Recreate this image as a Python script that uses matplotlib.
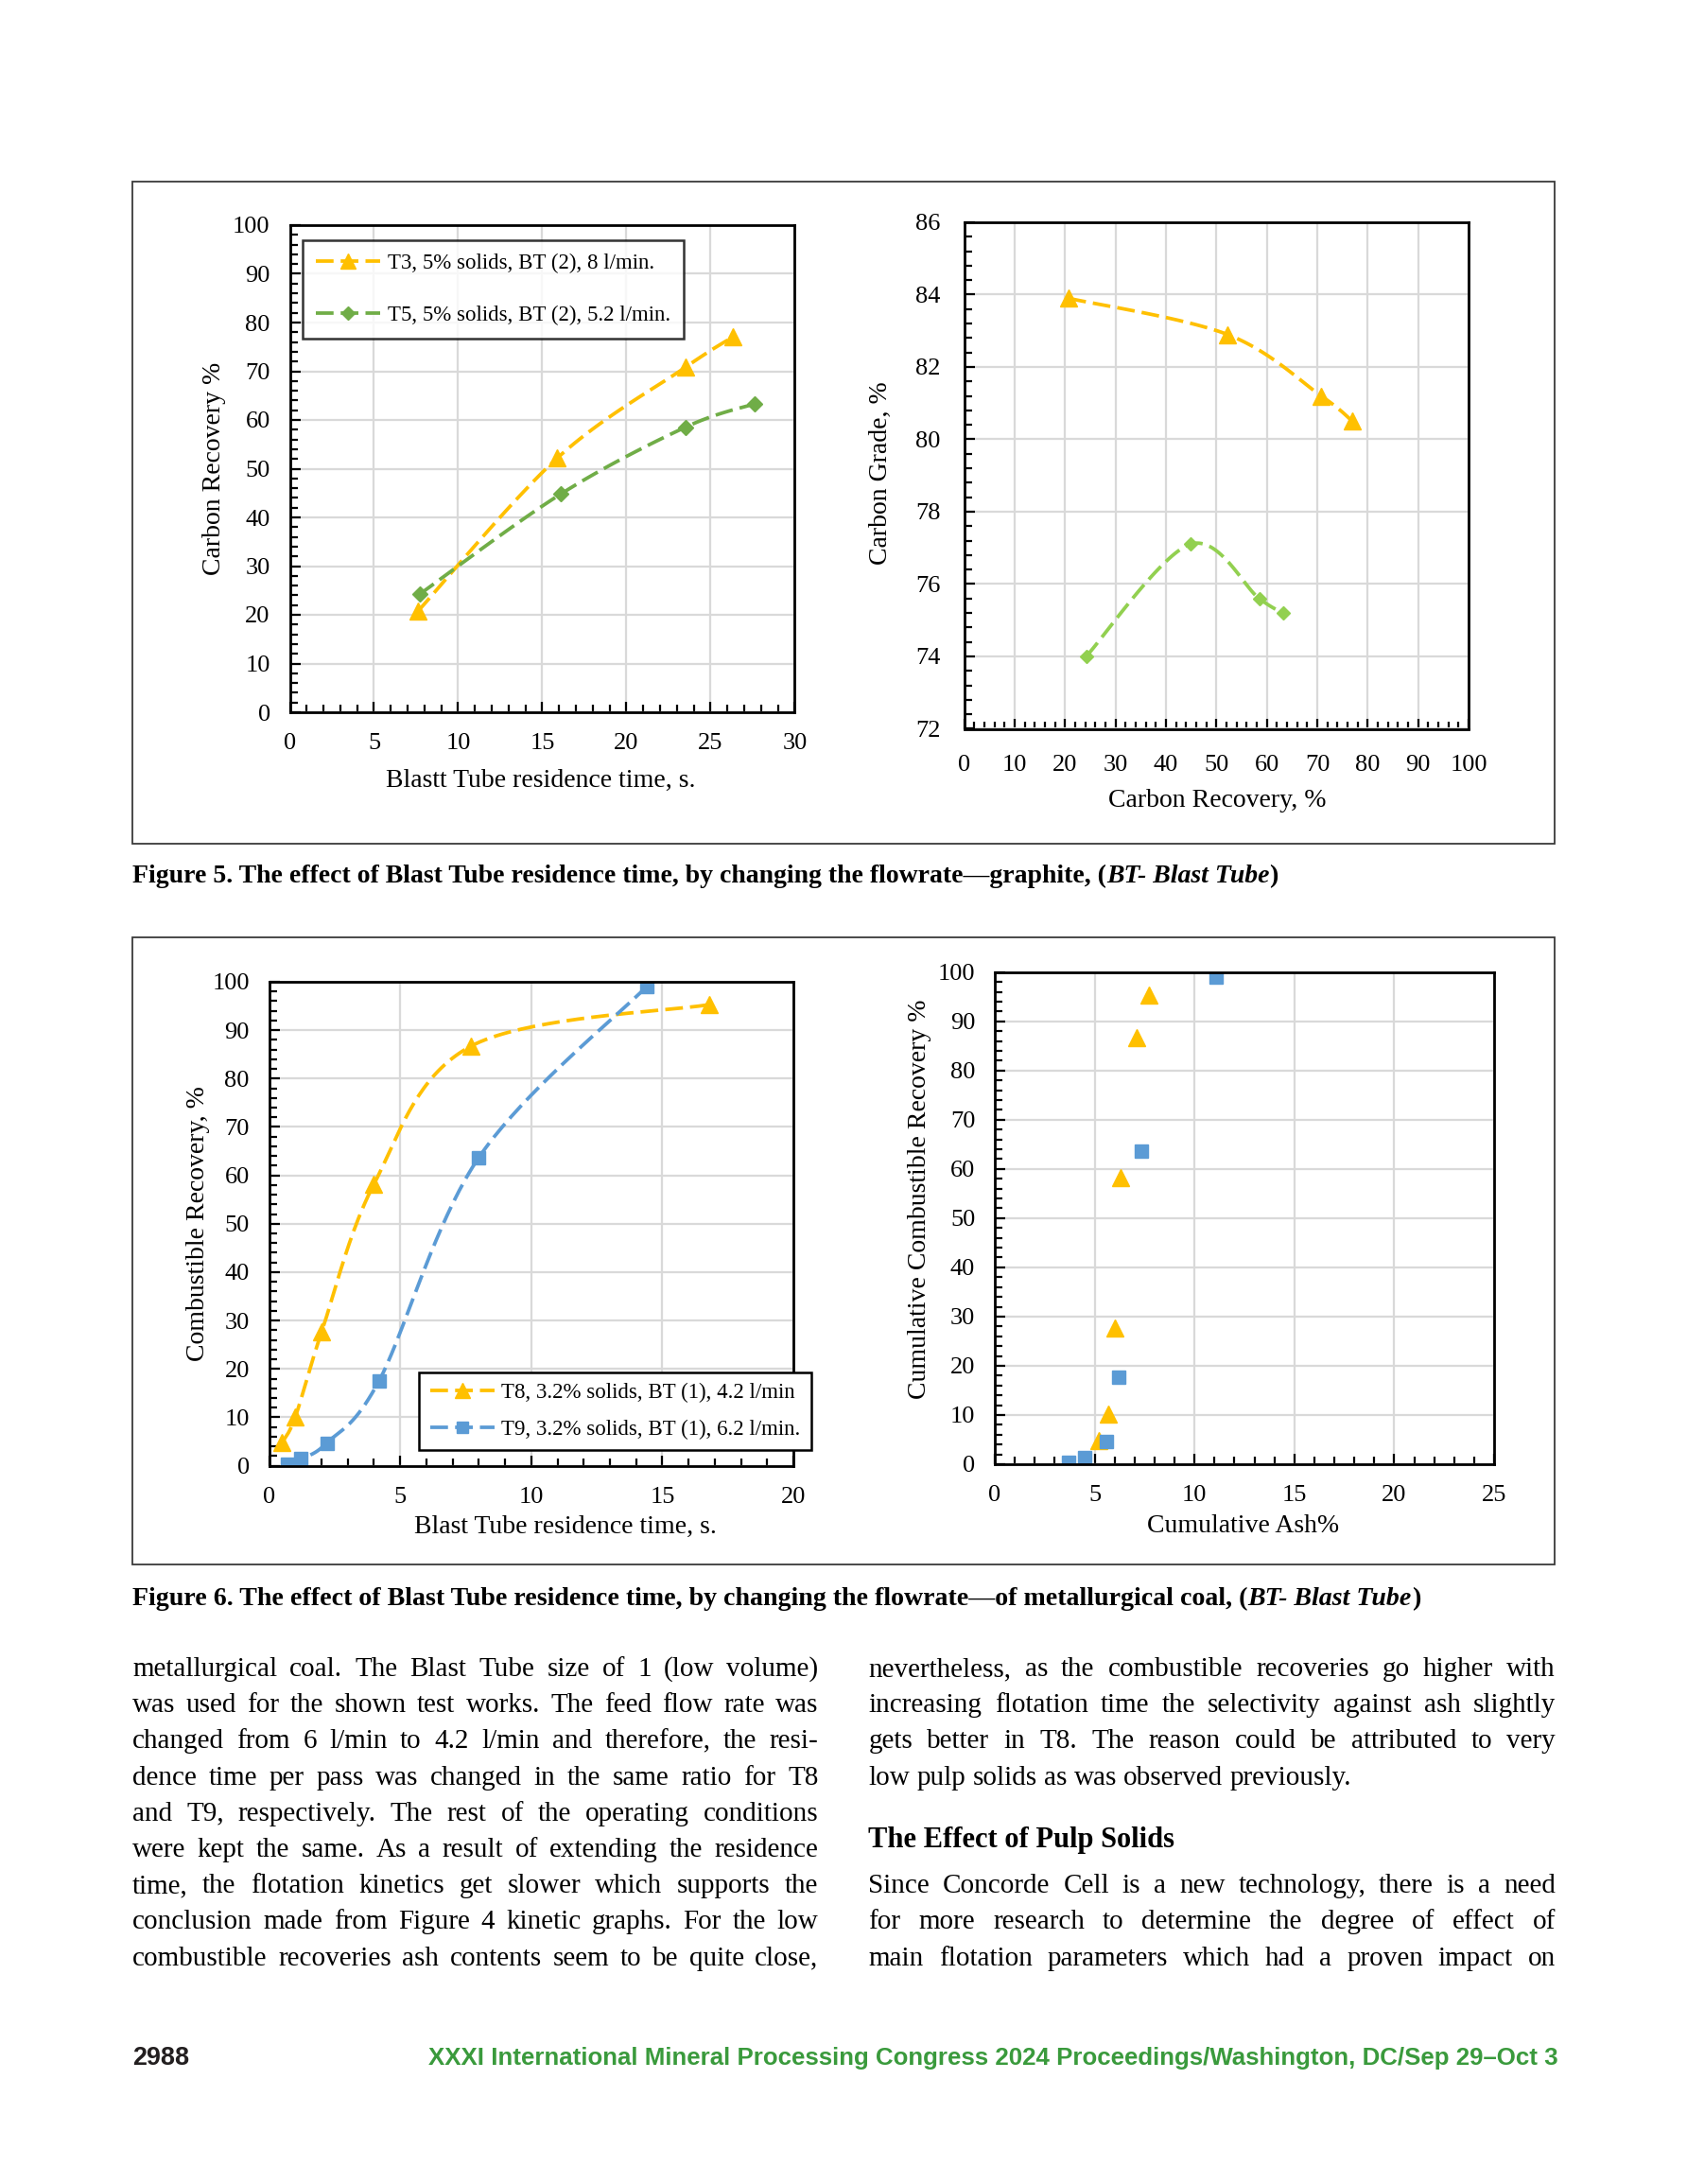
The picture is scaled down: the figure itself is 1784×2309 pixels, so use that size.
import numpy as np
import matplotlib
matplotlib.use("Agg")
import matplotlib.pyplot as plt
from matplotlib.ticker import MultipleLocator
from matplotlib.patches import Rectangle
from matplotlib.lines import Line2D

W, H = 1784, 2309
plt.rcParams['font.family'] = ['Liberation Serif', 'DejaVu Serif']

# ===== Data =====
# Figure 5 (graphite)
t3_time = [7.6, 15.9, 23.5, 26.3]
t3_rec = [20.7, 52.2, 70.8, 77.0]
t3_grade = [83.9, 82.9, 81.2, 80.5]
t5_time = [7.7, 16.1, 23.5, 27.6]
t5_rec = [24.2, 44.8, 58.5, 63.3]
t5_grade = [74.0, 77.1, 75.6, 75.2]
# Figure 6 (metallurgical coal)
t8_time = [0.5, 1.0, 2.0, 4.0, 7.7, 16.8]
t8_rec = [4.8, 10.1, 27.6, 58.2, 86.7, 95.3]
t8_ash = [5.2, 5.7, 6.0, 6.3, 7.1, 7.7]
t9_time = [0.7, 1.2, 2.2, 4.2, 8.0, 14.4]
t9_rec = [0.3, 1.4, 4.7, 17.6, 63.7, 99.0]
t9_ash = [3.7, 4.5, 5.6, 6.2, 7.35, 11.1]

lab_t3 = "T3, 5% solids, BT (2), 8 l/min."
lab_t5 = "T5, 5% solids, BT (2), 5.2 l/min."
lab_t8 = "T8, 3.2% solids, BT (1), 4.2 l/min"
lab_t9 = "T9, 3.2% solids, BT (1), 6.2 l/min."

GOLD = "#FFC000"
GREEN = "#70AD47"
LGREEN = "#92D050"
BLUE = "#5B9BD5"
DASH = (0, (5, 2))

left_lines = [
    "metallurgical coal. The Blast Tube size of 1 (low volume)",
    "was used for the shown test works. The feed flow rate was",
    "changed from 6 l/min to 4.2 l/min and therefore, the resi-",
    "dence time per pass was changed in the same ratio for T8",
    "and T9, respectively. The rest of the operating conditions",
    "were kept the same. As a result of extending the residence",
    "time, the flotation kinetics get slower which supports the",
    "conclusion made from Figure 4 kinetic graphs. For the low",
    "combustible recoveries ash contents seem to be quite close,",
]
right_top = [
    "nevertheless, as the combustible recoveries go higher with",
    "increasing flotation time the selectivity against ash slightly",
    "gets better in T8. The reason could be attributed to very",
    "low pulp solids as was observed previously.",
]
right_bottom = [
    "Since Concorde Cell is a new technology, there is a need",
    "for more research to determine the degree of effect of",
    "main flotation parameters which had a proven impact on",
]


def smooth(x, y, n=40):
    # Bezier smoothing through the points (Excel-like smoothed line)
    p = np.column_stack([x, y]).astype(float)
    p = np.vstack([p[0], p, p[-1]])
    t = np.linspace(0, 1, n)[:, None]
    out = []
    for i in range(1, len(p) - 2):
        p0, p1, p2, p3 = p[i - 1], p[i], p[i + 1], p[i + 2]
        c1 = p1 + (p2 - p0) / 6
        c2 = p2 - (p3 - p1) / 6
        seg = (1 - t) ** 3 * p1 + 3 * (1 - t) ** 2 * t * c1 + 3 * (1 - t) * t ** 2 * c2 + t ** 3 * p2
        out.append(seg if i == 1 else seg[1:])
    s = np.vstack(out)
    return s[:, 0], s[:, 1]


def axes_px(fig, x0, y0, x1, y1):
    return fig.add_axes([x0 / W, 1 - y1 / H, (x1 - x0) / W, (y1 - y0) / H])


def style_axes(ax, xlim, ylim, xmaj, xmin, ymaj, ymin, xpad=16, ypad=15):
    ax.set_xlim(*xlim)
    ax.set_ylim(*ylim)
    ax.xaxis.set_major_locator(MultipleLocator(xmaj))
    ax.xaxis.set_minor_locator(MultipleLocator(xmin))
    ax.yaxis.set_major_locator(MultipleLocator(ymaj))
    ax.yaxis.set_minor_locator(MultipleLocator(ymin))
    ax.grid(True, which='major', color='#D9D9D9', lw=1.6)
    ax.set_axisbelow(True)
    for s in ax.spines.values():
        s.set_linewidth(2.0)
        s.set_color('black')
    ax.tick_params(which='both', direction='in', width=1.6, labelsize=19)
    ax.tick_params(axis='x', which='both', pad=xpad)
    ax.tick_params(axis='y', which='both', pad=ypad)
    ax.tick_params(which='major', length=8)
    ax.tick_params(which='minor', length=6)


def labels(ax, xl, yl, xpos, ypos):
    ax.set_xlabel(xl, fontsize=20, va='center', ha='center')
    ax.set_ylabel(yl, fontsize=20, va='center', ha='center')
    ax.xaxis.set_label_coords(*xpos)
    ax.yaxis.set_label_coords(*ypos)


fig = plt.figure(figsize=(W / 100, H / 100), dpi=100)
fig.patch.set_facecolor('white')

# figure frames
for (x0, y0, x1, y1) in [(140, 192, 1644, 892), (140, 991, 1644, 1654)]:
    fig.patches.append(Rectangle((x0 / W, 1 - y1 / H), (x1 - x0) / W, (y1 - y0) / H,
                                 transform=fig.transFigure, fill=False, ec='#3a3a3a', lw=1.3))

# ===== Figure 5 left =====
ax1 = axes_px(fig, 306.5, 238, 840.4, 753)
style_axes(ax1, (0, 30), (0, 100), 5, 1, 10, 2)
sx, sy = smooth(t3_time, t3_rec)
ax1.plot(sx, sy, color=GOLD, ls=DASH, lw=2.7)
ax1.plot(t3_time, t3_rec, '^', color=GOLD, ms=13, ls='none')
sx, sy = smooth(t5_time, t5_rec)
ax1.plot(sx, sy, color=GREEN, ls=DASH, lw=2.7)
ax1.plot(t5_time, t5_rec, 'D', color=GREEN, ms=8, ls='none')
h1 = [Line2D([], [], color=GOLD, ls=DASH, lw=2.7, marker='^', ms=11),
      Line2D([], [], color=GREEN, ls=DASH, lw=2.7, marker='D', ms=7)]
leg = ax1.legend(h1, [lab_t3, lab_t5], loc='upper left', bbox_to_anchor=(0.025, 0.968),
                 fontsize=16.5, frameon=True, fancybox=False, edgecolor='black',
                 handlelength=3.0, labelspacing=1.45, borderpad=0.6, handletextpad=0.35,
                 numpoints=1, borderaxespad=0)
leg.get_frame().set_linewidth(1.8)
labels(ax1, "Blastt Tube residence time, s.", "Carbon Recovery %", (0.496, -0.14), (-0.149, 0.5))

# ===== Figure 5 right =====
ax2 = axes_px(fig, 1019.5, 235, 1553, 770.5)
style_axes(ax2, (0, 100), (72, 86), 10, 2, 2, 0.4, xpad=20, ypad=18)
sx, sy = smooth(t3_rec, t3_grade)
ax2.plot(sx, sy, color=GOLD, ls=DASH, lw=2.7)
ax2.plot(t3_rec, t3_grade, '^', color=GOLD, ms=13, ls='none')
sx, sy = smooth(t5_rec, t5_grade)
ax2.plot(sx, sy, color=LGREEN, ls=DASH, lw=2.7)
ax2.plot(t5_rec, t5_grade, 'D', color=LGREEN, ms=7, ls='none')
labels(ax2, "Carbon Recovery, %", "Carbon Grade, %", (0.5025, -0.141), (-0.165, 0.505))

# ===== Figure 6 left =====
ax3 = axes_px(fig, 284.6, 1038, 839, 1549.6)
style_axes(ax3, (0, 20), (0, 100), 5, 1, 10, 2)
sx, sy = smooth(t8_time, t8_rec)
ax3.plot(sx, sy, color=GOLD, ls=DASH, lw=2.7)
ax3.plot(t8_time, t8_rec, '^', color=GOLD, ms=13, ls='none')
sx, sy = smooth(t9_time, t9_rec)
ax3.plot(sx, sy, color=BLUE, ls=DASH, lw=2.7)
ax3.plot(t9_time, t9_rec, 's', color=BLUE, ms=10, ls='none')
h3 = [Line2D([], [], color=GOLD, ls=DASH, lw=2.7, marker='^', ms=11),
      Line2D([], [], color=BLUE, ls=DASH, lw=2.7, marker='s', ms=8)]
leg3 = ax3.legend(h3, [lab_t8, lab_t9], loc='lower left', bbox_to_anchor=(0.286, 0.032),
                  fontsize=16.5, frameon=True, fancybox=False, edgecolor='black',
                  handlelength=3.0, labelspacing=0.75, borderpad=0.5, handletextpad=0.3,
                  numpoints=1, borderaxespad=0, framealpha=1)
leg3.get_frame().set_linewidth(1.8)
labels(ax3, "Blast Tube residence time, s.", "Combustible Recovery, %", (0.566, -0.127), (-0.136, 0.5))

# ===== Figure 6 right =====
ax4 = axes_px(fig, 1052, 1027.7, 1580, 1548)
style_axes(ax4, (0, 25), (0, 100), 5, 1, 10, 2)
ax4.plot(t8_ash, t8_rec, '^', color=GOLD, ms=13, ls='none')
ax4.plot(t9_ash, t9_rec, 's', color=BLUE, ms=10, ls='none')
labels(ax4, "Cumulative Ash%", "Cumulative Combustible Recovery %", (0.498, -0.125), (-0.150, 0.538))

# ===== Page text =====
r = fig.canvas.get_renderer()


def put(x, y, s, size, **kw):
    return fig.text(x / W, 1 - y / H, s, fontsize=size, va='baseline', **kw)


def width_of(t):
    return t.get_window_extent(renderer=r).width


def runs(x, y, parts, width, size):
    # draw a sequence of styled pieces, scaled so the whole fits the width
    texts = []
    cx = x
    for s, kw in parts:
        t = put(cx, y, s, size, **kw)
        cx += width_of(t)
        texts.append(t)
    k = width / (cx - x)
    cx = x
    for t in texts:
        t.set_fontsize(size * k)
        t.set_x(cx / W)
        cx += width_of(t)
    return texts


def justify(x0, x1, y, line, size, last=False):
    words = line.split()
    ts = [put(x0, y, w, size) for w in words]
    ws = [width_of(t) for t in ts]
    sp = size * 100 / 72 * 0.25
    total = sum(ws)
    if total + sp * 0.6 * (len(ws) - 1) > x1 - x0:
        k = (x1 - x0) / (total + sp * 0.6 * (len(ws) - 1))
        for t in ts:
            t.set_fontsize(size * k)
        ws = [width_of(t) for t in ts]
        total = sum(ws)
    gap = sp if last else (x1 - x0 - total) / max(len(ws) - 1, 1)
    cx = x0
    for t, w in zip(ts, ws):
        t.set_x(cx / W)
        cx += w + gap


B = dict(weight='bold')
BI = dict(weight='bold', style='italic')
runs(140, 933, [("Figure 5. The effect of Blast Tube residence time, by changing the flowrate\u2014graphite, (", B),
                ("BT- Blast Tube", BI), (")", B)], 1213, 20)
runs(140, 1697, [("Figure 6. The effect of Blast Tube residence time, by changing the flowrate\u2014of metallurgical coal, (", B),
                 ("BT- Blast Tube", BI), (")", B)], 1356, 20)

BODY = 21
base = 1772
step = 38.2
for i, line in enumerate(left_lines):
    justify(140, 865.5, base + i * step, line, BODY)
for i, line in enumerate(right_top):
    justify(918.5, 1645, base + i * step, line, BODY, last=(i == len(right_top) - 1))
runs(918.5, 1953, [("The Effect of Pulp Solids", B)], 324, 22)
for i, line in enumerate(right_bottom):
    justify(918.5, 1645, base + (i + 6) * step, line, BODY)

SANS = ['Liberation Sans Narrow', 'Liberation Sans', 'DejaVu Sans']
runs(140, 2183, [("2988", dict(weight='bold', family=SANS, color='#231f20'))], 60, 18)
runs(452.6, 2183, [("XXXI International Mineral Processing Congress 2024 Proceedings/Washington, DC/Sep 29\u2013Oct 3",
                    dict(weight='bold', family=SANS, color='#3a9a3c'))], 1193, 18)

fig.savefig("out.png", dpi=100, facecolor='white')
